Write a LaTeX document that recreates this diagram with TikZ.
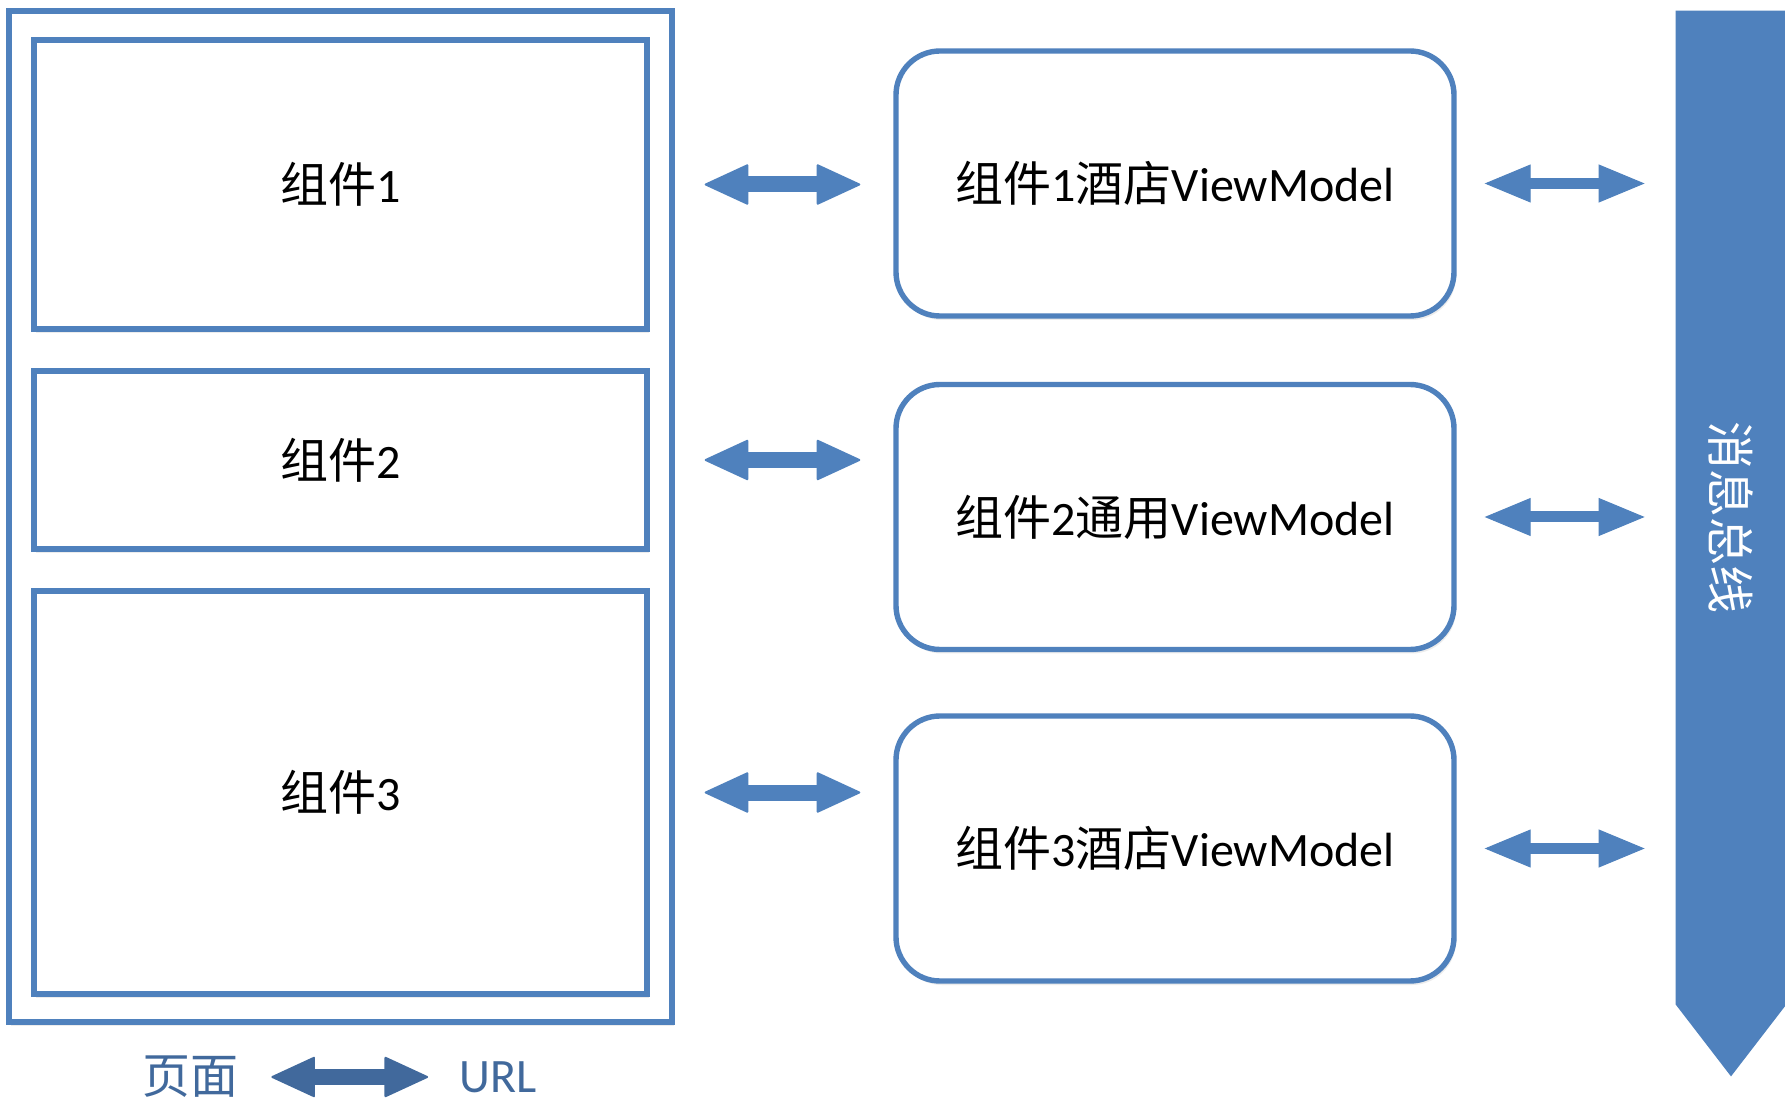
\documentclass[tikz,border=0pt]{standalone}
\usepackage{fontspec}
\setmainfont{Carlito}
\newfontfamily\cjk{Noto Sans CJK SC}
\usetikzlibrary{arrows.meta}
\usetikzlibrary{shadows}
\definecolor{boxblue}{HTML}{4F81BD}
\definecolor{darkblue}{HTML}{41699C}

\begin{document}
\begin{tikzpicture}[x=0.5pt,y=-0.5pt,
    txtstyle/.style={inner sep=0pt,font=\fontsize{24}{28}\selectfont},
    boxstyle/.style={txtstyle,rectangle,draw=boxblue,line width=2.7pt,fill=white,minimum width=306.5pt,drop shadow={opacity=0.15,shadow xshift=1pt,shadow yshift=-2pt}},
    vmstyle/.style={boxstyle,rounded corners=22pt,minimum width=279pt,minimum height=132.5pt},
    fatarrow/.style={boxblue,line width=8pt,{Triangle[length=22.5pt,width=20.5pt,line width=1pt,round]}-{Triangle[length=22.5pt,width=20.5pt,line width=1pt,round]}},
    thinarrow/.style={boxblue,line width=5.5pt,{Triangle[length=23pt,width=19pt,line width=0.5pt]}-{Triangle[length=23pt,width=19pt,line width=0.5pt]}}]
    \useasboundingbox (0,0) rectangle (1785,1101);
    \fill[white] (0,0) rectangle (1785,1101);
    \begin{scope}
	\node[boxstyle,minimum width=331.5pt,minimum height=505.5pt] (pagebox) at (340.5,516.5) {};
	\node[boxstyle,minimum height=144.5pt] (box1) at (340.5,184.5) {{\cjk 组件}1};
	\node[boxstyle,minimum height=89pt] (box2) at (340.5,460) {{\cjk 组件}2};
	\node[boxstyle,minimum height=201.5pt] (box3) at (340.5,792.5) {{\cjk 组件}3};
    \end{scope}
    \begin{scope}
	\foreach \i/\y/\txt in {1/183.5/酒店,2/517/通用,3/848.5/酒店}
	 \node[vmstyle] (vm\i) at (1175,\y) {{\cjk 组件}\i{\cjk \txt}ViewModel};
    \end{scope}
    \begin{scope}
	\node[rectangle,minimum width=55pt,minimum height=496.5pt,inner sep=0pt] (bus) at (1731,507.5) {};
	\fill[boxblue] (bus.north west) -- (bus.north east) -- (bus.south east) -- ([yshift=-36pt]bus.south) -- (bus.south west) -- cycle;
	\node[txtstyle,text=white,rotate=-90] (buslbl) at (1731,518) {\cjk 消息总线};
    \end{scope}
    \foreach \i in {1,2,3} {
	\coordinate (lend\i) at (box\i.east -| vm\i.west);
	\coordinate (rend\i) at (vm\i.east -| bus.west);
	\draw[fatarrow] ([xshift=27.5pt]box\i.east) -- ([xshift=-16.5pt]lend\i);
	\draw[thinarrow] ([xshift=14pt]vm\i.east) -- ([xshift=-15.5pt]rend\i);
    }
    \node[txtstyle,text=darkblue] (pagelbl) at (190,1077) {\cjk 页面};
    \node[txtstyle,text=darkblue] (urllbl) at (498,1077) {URL};
    \draw[fatarrow,darkblue] ([xshift=16.5pt]pagelbl.east) -- ([xshift=-15.5pt]urllbl.west);
\end{tikzpicture}
\end{document}
